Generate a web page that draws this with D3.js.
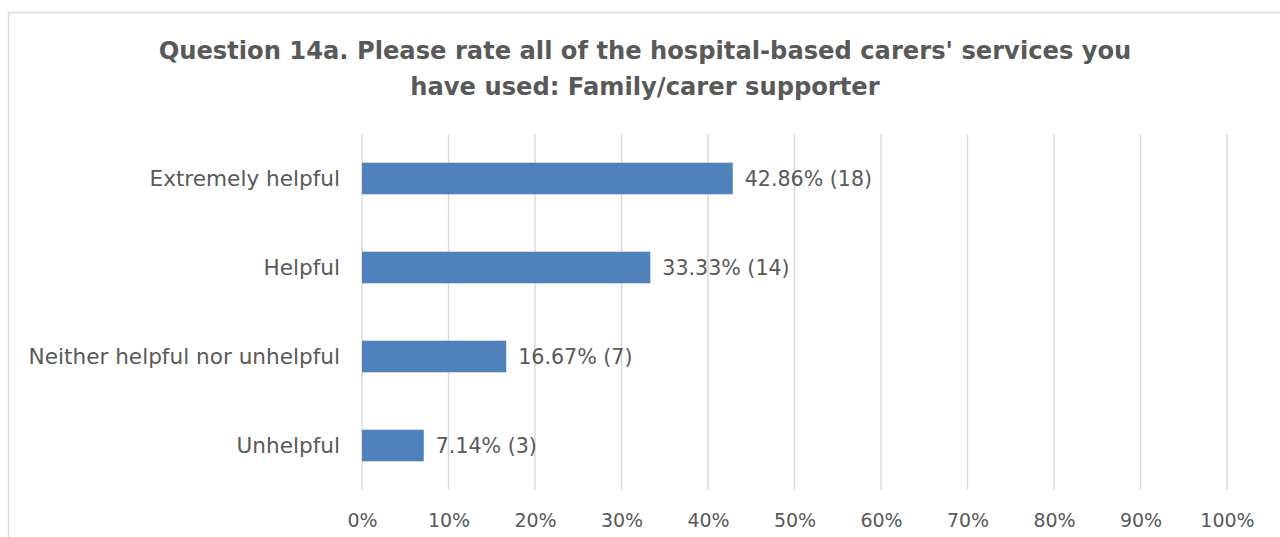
<!DOCTYPE html>
<html>
<head>
<meta charset="utf-8">
<script src="https://cdn.jsdelivr.net/npm/d3@7"></script>
<style>
  html, body { margin: 0; padding: 0; background: #fff; }
  svg text { font-family: "DejaVu Sans", sans-serif; fill: #595959; }
</style>
</head>
<body>
<svg id="chart" width="1280" height="537"></svg>
<script>
// Survey responses
const categories = ["Extremely helpful", "Helpful", "Neither helpful nor unhelpful", "Unhelpful"];
const percentages = [42.86, 33.33, 16.67, 7.14];
const counts = [18, 14, 7, 3];
const tickValues = [0, 10, 20, 30, 40, 50, 60, 70, 80, 90, 100];
const titleLines = [
  "Question 14a. Please rate all of the hospital-based carers' services you",
  "have used: Family/carer supporter"
];

const rows = categories.map((c, i) => ({ category: c, pct: percentages[i], n: counts[i] }));

const svg = d3.select("#chart");
const plot = { left: 362, right: 1227, top: 134, bottom: 490 };

// Chart frame
svg.append("rect")
  .attr("x", 8.5).attr("y", 12.5)
  .attr("width", 1290).attr("height", 600)
  .attr("fill", "none")
  .attr("stroke", "#d9d9d9")
  .attr("stroke-width", 1.5);

// Title
svg.append("text")
  .attr("x", 645).attr("y", 59)
  .attr("text-anchor", "middle")
  .style("font-size", "24.2px")
  .style("font-weight", "bold")
  .selectAll("tspan")
  .data(titleLines)
  .join("tspan")
  .attr("x", 645)
  .attr("dy", (d, i) => i === 0 ? 0 : 36)
  .text(d => d);

const x = d3.scaleLinear().domain([0, 100]).range([plot.left, plot.right]);
const y = d3.scaleBand().domain(categories).range([plot.top, plot.bottom]).paddingInner(0.645).paddingOuter(0.3225);

// Vertical gridlines
svg.append("g")
  .selectAll("line")
  .data(tickValues)
  .join("line")
  .attr("x1", d => x(d)).attr("x2", d => x(d))
  .attr("y1", plot.top).attr("y2", plot.bottom)
  .attr("stroke", "#d9d9d9")
  .attr("stroke-width", 1.5);

// X axis labels
const xAxis = d3.axisBottom(x).tickValues(tickValues).tickFormat(d => d + "%").tickSize(0).tickPadding(0);
const gx = svg.append("g")
  .attr("transform", `translate(0,${plot.bottom})`)
  .call(xAxis);
gx.select(".domain").remove();
gx.selectAll("text")
  .attr("y", 37)
  .attr("dy", 0)
  .style("font-size", "19px")
  .style("font-family", null)
  .attr("fill", "#595959");

// Category labels
const yAxis = d3.axisLeft(y).tickSize(0).tickPadding(0);
const gy = svg.append("g")
  .attr("transform", `translate(${plot.left - 22},0)`)
  .call(yAxis);
gy.select(".domain").remove();
gy.selectAll("text")
  .style("font-size", "21.6px")
  .style("font-family", null)
  .attr("fill", "#595959")
  .attr("dy", "0.35em");

// Bars
svg.append("g")
  .selectAll("rect")
  .data(rows)
  .join("rect")
  .attr("x", x(0))
  .attr("y", d => y(d.category))
  .attr("width", d => x(d.pct) - x(0))
  .attr("height", y.bandwidth())
  .attr("fill", "#4f81bd");

// Value labels
svg.append("g")
  .selectAll("text")
  .data(rows)
  .join("text")
  .attr("x", d => x(d.pct) + 12)
  .attr("y", d => y(d.category) + y.bandwidth() / 2)
  .attr("dy", "0.35em")
  .style("font-size", "20.6px")
  .text(d => `${d.pct.toFixed(2)}% (${d.n})`);
</script>
</body>
</html>
